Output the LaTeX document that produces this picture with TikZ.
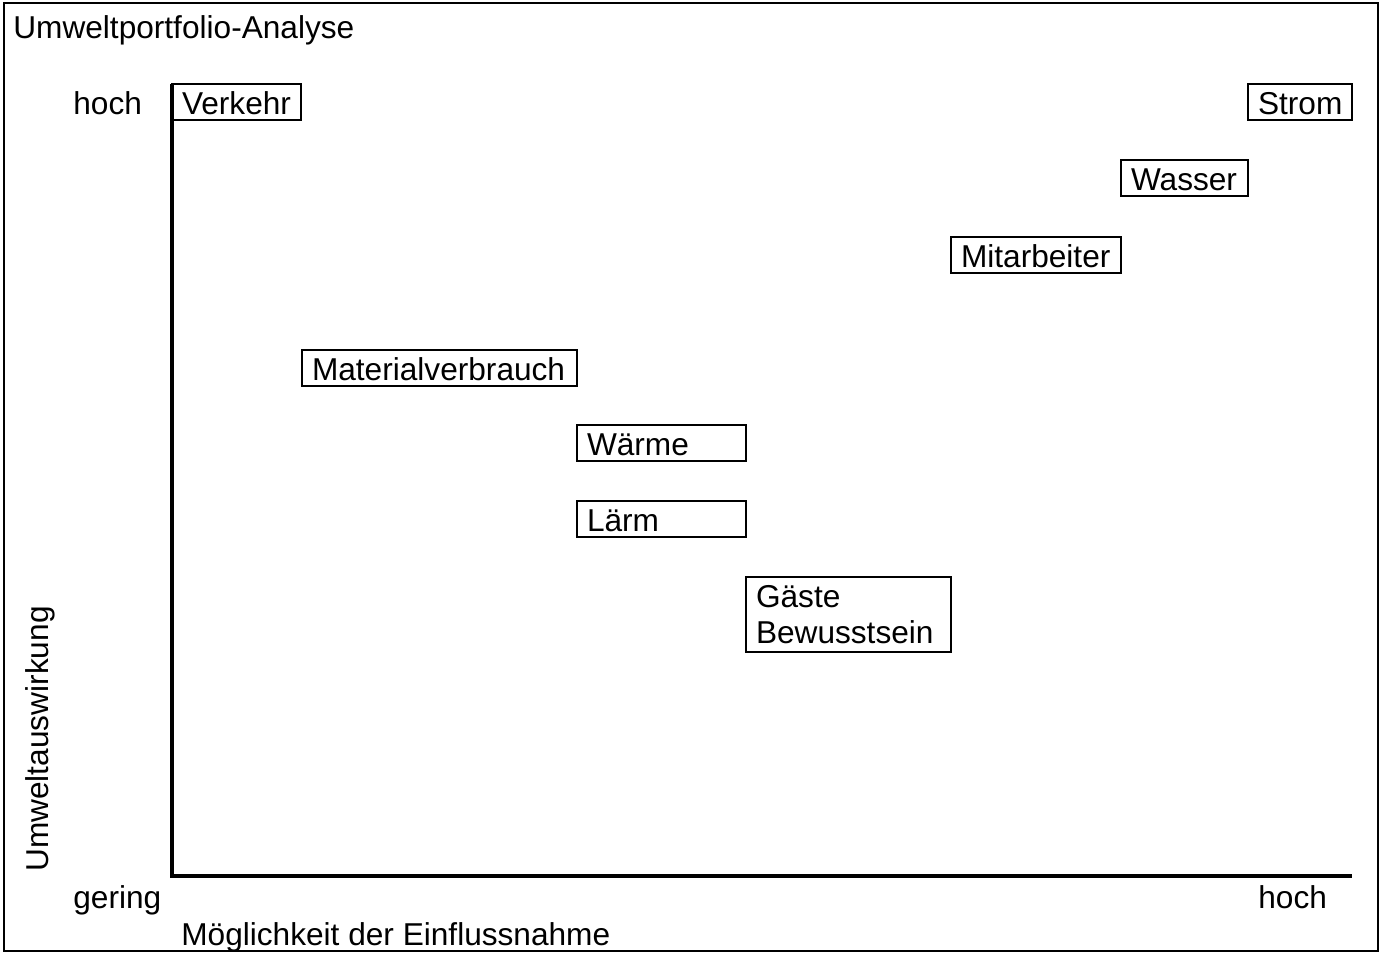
\documentclass[tikz,border=0pt]{standalone}
\usepackage{fontspec}
\setmainfont{Liberation Sans}
\usepackage{tikz}
\usetikzlibrary{positioning,calc}

\tikzset{
    lbl/.style={font=\fontsize{18}{20.5}\selectfont, inner sep=0pt},
    tag/.style={draw, line width=1.1pt, outer sep=0pt, inner xsep=0.2cm, inner ysep=0pt,
        text height=0.61cm, text depth=0.11cm, align=left,
        font=\fontsize{18}{20.5}\selectfont, anchor=north west},
    axis/.style={line width=2.3pt}
}

\begin{document}
\begin{tikzpicture}[x=0.02cm, y=-0.02cm]
    \useasboundingbox (0,0) rectangle (1381,953);
    % Frame
    \draw[line width=1.1pt] (4,3) rectangle (1378,951);
    \node[lbl, anchor=base west] (title) at (13,39) {Umweltportfolio-Analyse};

    % Axes
    \coordinate (top) at (172,84);
    \coordinate (origin) at (172,876);
    \coordinate (right) at (1352,876);
    \draw[axis] (top) -- (origin) -- (right);

    % Axis labels
    \node[lbl, anchor=base west] (yhigh) at (73,114) {hoch};
    \node[lbl, anchor=base west] (ylow) at (73,908) {gering};
    \node[lbl, anchor=base west] (xhigh) at (1258,908) {hoch};
    \node[lbl, anchor=base west] (xlabel) at (181,945) {Möglichkeit der Einflussnahme};
    \node[lbl, anchor=base west, rotate=90] (ylabel) at (48,872) {Umweltauswirkung};

    % Aspects
    \foreach \n/\txt/\x/\y/\w in {verkehr/Verkehr/172/84/129, strom/Strom/1248/84/104,
        wasser/Wasser/1121/160/127, mitarbeiter/Mitarbeiter/951/237/170,
        material/Materialverbrauch/302/350/275, waerme/Wärme/577/425/169,
        laerm/Lärm/577/501/169} {
        \pgfmathsetmacro\tw{\w*0.02-0.4}
        \node[tag, text width=\tw cm] (\n) at (\x,\y) {\txt};
    }
    \node[tag, text width=3.7cm, text height=, text depth=, minimum height=1.5cm] (gaeste) at (746,577) {Gäste\\Bewusstsein};

\end{tikzpicture}
\end{document}
